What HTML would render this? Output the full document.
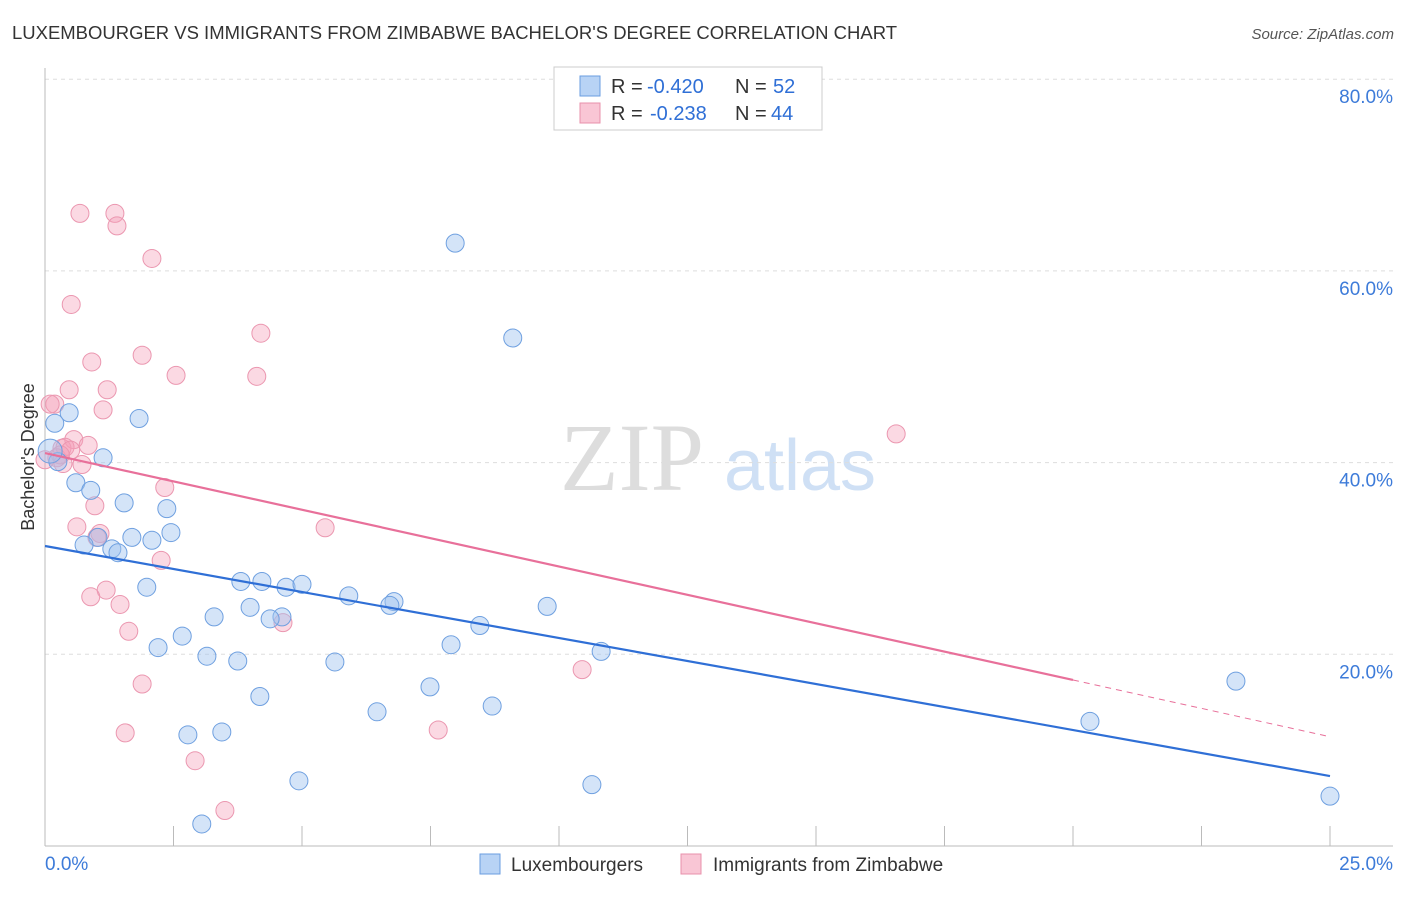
<!DOCTYPE html>
<html><head><meta charset="utf-8"><style>
body{margin:0;background:#fff;font-family:"Liberation Sans",sans-serif;}
</style></head><body>
<svg id="chart" width="1406" height="892" xmlns="http://www.w3.org/2000/svg" font-family="Liberation Sans, sans-serif">
<text x="12" y="39" font-size="18" fill="#333" textLength="885" lengthAdjust="spacingAndGlyphs">LUXEMBOURGER VS IMMIGRANTS FROM ZIMBABWE BACHELOR'S DEGREE CORRELATION CHART</text>
<text x="1394" y="39" font-size="15" fill="#555" font-style="italic" text-anchor="end">Source: ZipAtlas.com</text>
<g>
<text x="632" y="490" font-size="96" fill="#ddd" font-family="Liberation Serif, serif" text-anchor="middle">ZIP</text>
<text x="800" y="490" font-size="72" fill="#cfe0f5" text-anchor="middle">atlas</text>
</g>
<g id="grid"></g>
<g id="axes"></g>
<g id="points"></g>
<g id="lines"></g>
<text transform="translate(34,457) rotate(-90)" font-size="18" fill="#333" text-anchor="middle">Bachelor's Degree</text>
<g>
<rect x="554" y="67" width="268" height="63" fill="#fff" stroke="#ccc"/>
<rect x="580" y="76" width="20" height="20" fill="#b8d3f5" stroke="#6a9de0"/>
<rect x="580" y="103" width="20" height="20" fill="#f9c6d5" stroke="#e890ab"/>
<text x="611" y="93" font-size="20" fill="#333">R =</text>
<text x="647" y="93" font-size="20" fill="#2f6fd6">-0.420</text>
<text x="735" y="93" font-size="20" fill="#333">N =</text>
<text x="773" y="93" font-size="20" fill="#2f6fd6">52</text>
<text x="611" y="120" font-size="20" fill="#333">R =</text>
<text x="650" y="120" font-size="20" fill="#2f6fd6">-0.238</text>
<text x="735" y="120" font-size="20" fill="#333">N =</text>
<text x="771" y="120" font-size="20" fill="#2f6fd6">44</text>
</g>
<g>
<rect x="480" y="854" width="20" height="20" fill="#b8d3f5" stroke="#6a9de0"/>
<text x="511" y="871" font-size="19" fill="#333">Luxembourgers</text>
<rect x="681" y="854" width="20" height="20" fill="#f9c6d5" stroke="#e890ab"/>
<text x="713" y="871" font-size="19" fill="#333">Immigrants from Zimbabwe</text>
</g>
</svg>
<script>
const blueX=[7.98,9.10,1.83,0.47,0.19,1.13,0.25,0.60,0.89,1.54,2.37,2.45,1.69,2.08,1.03,0.76,1.30,1.42,1.98,3.81,4.22,4.69,5.00,5.91,6.79,6.71,9.77,3.99,3.29,4.61,4.38,8.46,2.67,2.20,7.90,10.82,3.15,3.75,5.64,7.49,4.18,6.46,8.70,2.78,3.44,20.33,23.17,4.94,10.64,3.05,25.0,0.10];
const blueY=[62.9,53.0,44.6,45.2,44.1,40.5,40.1,37.9,37.1,35.8,35.2,32.7,32.2,31.9,32.2,31.4,31.0,30.6,27.0,27.6,27.6,27.0,27.3,26.1,25.5,25.1,25.0,24.9,23.9,23.9,23.7,23.0,21.9,20.7,21.0,20.3,19.8,19.3,19.2,16.6,15.6,14.0,14.6,11.6,11.9,13.0,17.2,6.8,6.4,2.3,5.2,41.2];
const pinkX=[0.68,1.36,1.40,2.08,0.51,4.20,1.89,0.91,2.55,4.12,0.47,1.21,0.19,1.13,0.33,0.56,0.84,0.39,0.23,0.72,0.35,2.33,0.97,0.62,1.07,1.01,5.45,2.26,16.56,1.19,0.89,1.46,1.63,4.63,10.45,1.89,1.56,7.65,2.92,3.50,0.10,0.0,0.5,0.3];
const pinkY=[66.0,66.0,64.7,61.3,56.5,53.5,51.2,50.5,49.1,49.0,47.6,47.6,46.1,45.5,41.5,42.4,41.8,41.6,40.5,39.8,39.9,37.4,35.5,33.3,32.6,32.2,33.2,29.8,43.0,26.7,26.0,25.2,22.4,23.3,18.4,16.9,11.8,12.1,8.9,3.7,46.1,40.3,41.3,40.8];
const yTicks=[20,40,60,80];
const yTickLabels=["20.0%","40.0%","60.0%","80.0%"];
const xTickLabels=["0.0%","25.0%"];
const blueTrend=[31.3,7.3];
const pinkTrend=[41.0,11.4];
const pinkSolidEnd=20.0;
const NS="http://www.w3.org/2000/svg";
const X=v=>45+v/25*1285;
const Y=v=>846-v/20*191.7;
function mk(tag,attrs,parent){const e=document.createElementNS(NS,tag);for(const k in attrs)e.setAttribute(k,attrs[k]);parent.appendChild(e);return e;}
const grid=document.getElementById('grid'),axes=document.getElementById('axes'),pts=document.getElementById('points'),lines=document.getElementById('lines');
yTicks.forEach((t,i)=>{
 const l=mk('line',{x1:45,x2:1393,y1:Y(t),y2:Y(t),stroke:'#ddd','stroke-dasharray':'4,4'},grid);
 
 
 const tx=mk('text',{x:1393,y:Y(t)+24,'font-size':19,fill:'#3d7bd9','text-anchor':'end'},axes);
 tx.textContent=yTickLabels[i];
 
 
});
const xa=mk('line',{x1:45,x2:1393,y1:846,y2:846,stroke:'#bbb'},axes);


const ya=mk('line',{x1:45,x2:45,y1:68,y2:846,stroke:'#bbb'},axes);


for(let i=0;i<=10;i++){
 const t=mk('line',{x1:X(i*2.5),x2:X(i*2.5),y1:826,y2:846,stroke:'#bbb'},axes);
 
 
}
const xl0=mk('text',{x:45,y:870,'font-size':19,fill:'#3d7bd9'},axes);
xl0.textContent=xTickLabels[0];


const xl1=mk('text',{x:1393,y:870,'font-size':19,fill:'#3d7bd9','text-anchor':'end'},axes);
xl1.textContent=xTickLabels[1];


pinkX.forEach((x,i)=>{
 const c=mk('circle',{cx:X(x),cy:Y(pinkY[i]),r:9,fill:'rgba(244,160,186,0.4)',stroke:'#eb97b0','stroke-width':1},pts);
 
 
});
blueX.forEach((x,i)=>{
 const c=mk('circle',{cx:X(x),cy:Y(blueY[i]),r:i==blueX.length-1?12:9,fill:'rgba(160,196,240,0.45)',stroke:'#6fa0e0','stroke-width':1},pts);
 
 
});
const bl=mk('line',{x1:X(0),y1:Y(blueTrend[0]),x2:X(25),y2:Y(blueTrend[1]),stroke:'#2f6fd6','stroke-width':2.2},lines);


const ps=(pinkTrend[1]-pinkTrend[0])/25;
const pl=mk('line',{x1:X(0),y1:Y(pinkTrend[0]),x2:X(pinkSolidEnd),y2:Y(pinkTrend[0]+ps*pinkSolidEnd),stroke:'#e8709a','stroke-width':2.2},lines);


const pd=mk('line',{x1:X(pinkSolidEnd),y1:Y(pinkTrend[0]+ps*pinkSolidEnd),x2:X(25),y2:Y(pinkTrend[1]),stroke:'#e8709a','stroke-width':1,'stroke-dasharray':'6,5'},lines);


</script>
</body></html>
